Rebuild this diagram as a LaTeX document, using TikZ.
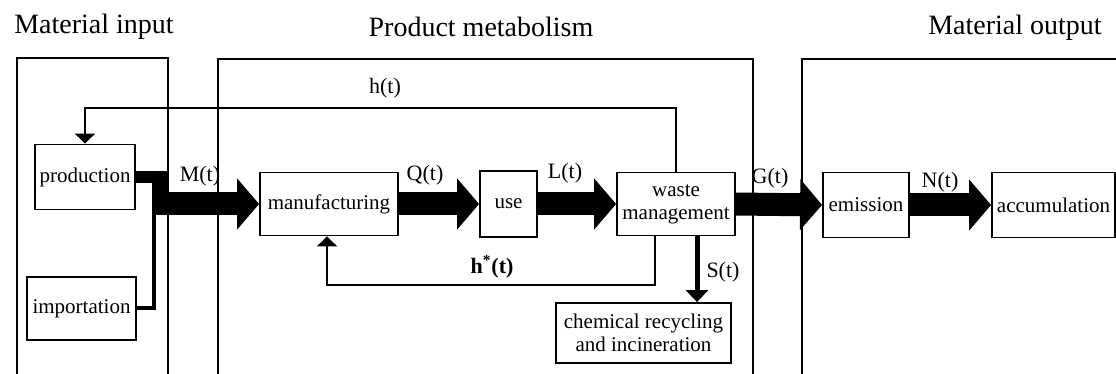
\documentclass[tikz,border=0pt]{standalone}
\usepackage{fontspec}
\setmainfont{Liberation Serif}
\usetikzlibrary{arrows.meta}
\tikzset{
boxMe/.style={draw, line width=0.9pt, inner sep=1pt, align=center,
    font=\fontsize{10.5}{11.5}\selectfont},
flowMe/.style={line width=11.5pt, -{Triangle[length=11pt,width=25pt]}},
backMe/.style={line width=1pt, -{Triangle[length=5pt,width=10pt]}},
frameMe/.style={line width=0.7pt},
lblMe/.style={font=\fontsize{11}{13}\selectfont},
titleMe/.style={font=\fontsize{14}{16}\selectfont}
}

\begin{document}
\begin{tikzpicture}[x=0.5pt,y=-0.5pt]
    \useasboundingbox (0,0) rectangle (1116,374);
    % frames
    \draw[frameMe] (17,374) -- (17,58) -- (168,58) -- (168,374);
    \draw[frameMe] (218,374) -- (218,59) -- (753,59) -- (753,374);
    \draw[frameMe] (802,374) -- (802,59) -- (1116,59);
    \node[titleMe] (tIn) at (94,27) {Material input};
    \node[titleMe] (tMeta) at (481,27) {Product metabolism};
    \node[titleMe] (tOut) at (1015,28) {Material output};
    % boxes
    \node[boxMe, minimum width=50pt, minimum height=32.5pt] (prod) at (85,177) {production};
    \node[boxMe, minimum width=54.5pt, minimum height=31.5pt] (imp) at (81.5,308.5) {importation};
    \node[boxMe, minimum width=69pt, minimum height=31.5pt] (mfg) at (329,204) {manufacturing};
    \node[boxMe, minimum width=28.5pt, minimum height=33pt] (use) at (508.5,204) {use};
    \node[boxMe, minimum width=59pt, minimum height=31.5pt] (waste) at (676,204) {waste\\management};
    \node[boxMe, minimum width=87.5pt, minimum height=30pt] (chem) at (643.5,333) {chemical recycling\\and incineration};
    \node[boxMe, minimum width=43pt, minimum height=32.5pt] (emis) at (866,205) {emission};
    \node[boxMe, minimum width=61.5pt, minimum height=32.5pt] (accu) at (1053.5,205) {accumulation};
    % input junction
    \coordinate (mJoin) at (152,204);
    \draw[line width=6pt] (prod.east) -- ++(31,0);
    \draw[line width=7.5pt] (159.5,171) -- (159.5,214);
    \draw[line width=2pt] (imp.east) -| (153.5,214);
    % flows
    \draw[flowMe] (mJoin) -- (mfg.west);
    \draw[flowMe] (mfg.east) -- (use.west);
    \draw[flowMe] (use.east) -- (waste.west);
    \draw[flowMe] (waste.east) -- (emis.west);
    \draw[flowMe] (emis.east) -- (accu.west);
    % feedback
    \coordinate (hTop) at (85,108);
    \draw[backMe] (waste.north) |- (hTop) -- (prod.north);
    \coordinate (hsStart) at (655,235);
    \coordinate (hsBot) at (327,285);
    \draw[backMe] (hsStart) |- (hsBot) -- (hsBot |- mfg.south);
    \coordinate (sTop) at (697,235);
    \draw[line width=2.5pt, -{Triangle[length=6pt,width=11pt]}] (sTop) -- (sTop |- chem.north);
    % labels
    \node[lblMe] (hLbl) at (385,88) {h(t)};
    \node[lblMe] (mLbl) at (200,176) {M(t)};
    \node[lblMe] (qLbl) at (425,175) {Q(t)};
    \node[lblMe] (lLbl) at (565,173) {L(t)};
    \node[lblMe] (gLbl) at (770,178) {G(t)};
    \node[lblMe] (nLbl) at (940,182) {N(t)};
    \node[lblMe, font=\bfseries\fontsize{11}{13}\selectfont] (hsLbl) at (492,267) {h\textsuperscript{*}(t)};
    \node[lblMe] (sLbl) at (723,272) {S(t)};
\end{tikzpicture}
\end{document}
